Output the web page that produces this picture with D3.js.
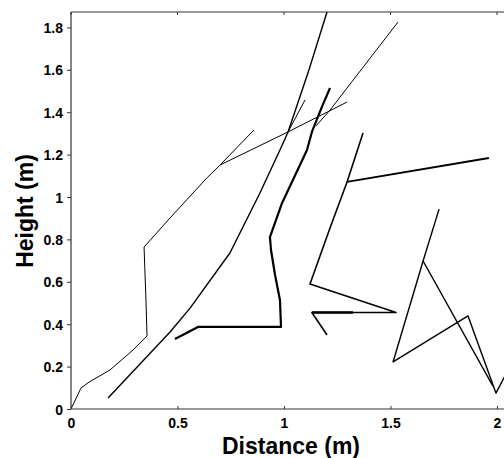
<!DOCTYPE html>
<html>
<head>
<meta charset="utf-8">
<script src="https://cdn.jsdelivr.net/npm/d3@7"></script>
<style>
  body { margin: 0; background: #fff; }
  svg { display: block; }
  .tick text { font-family: "Liberation Sans", Arial, sans-serif; font-weight: bold; font-size: 14px; fill: #000; }
  .title { font-family: "Liberation Sans", Arial, sans-serif; font-weight: bold; fill: #000; }
</style>
</head>
<body>
<svg id="chart" width="504" height="458"></svg>
<script>
// tick values and labels
var xTicks = [0, 0.5, 1, 1.5, 2];
var xTickLabels = ["0", "0.5", "1", "1.5", "2"];
var yTicks = [0, 0.2, 0.4, 0.6, 0.8, 1, 1.2, 1.4, 1.6, 1.8];
var yTickLabels = ["0", "0.2", "0.4", "0.6", "0.8", "1", "1.2", "1.4", "1.6", "1.8"];

// trajectories, distance (m) / height (m)
var trackAX = [0, 0.047, 0.085, 0.183, 0.291, 0.357, 0.352, 0.343, 0.465, 0.638, 0.70, 0.859];
var trackAY = [0, 0.099, 0.127, 0.184, 0.278, 0.344, 0.514, 0.764, 0.901, 1.090, 1.151, 1.316];
var trackBX = [0.70, 1.019, 1.296];
var trackBY = [1.151, 1.307, 1.448];
var trackCX = [0.174, 0.465, 0.559, 0.746, 0.887, 0.981, 1.019, 1.117, 1.202];
var trackCY = [0.052, 0.363, 0.476, 0.736, 1.019, 1.222, 1.307, 1.599, 1.873];
var trackDX = [1.019, 1.099];
var trackDY = [1.307, 1.458];
var trackEX = [0.488, 0.596, 0.986, 0.981, 0.958, 0.939, 0.934, 0.991, 1.108, 1.131, 1.178, 1.216];
var trackEY = [0.330, 0.387, 0.387, 0.514, 0.632, 0.750, 0.811, 0.972, 1.222, 1.307, 1.425, 1.514];
var trackFX = [1.535, 1.216, 1.150];
var trackFY = [1.825, 1.410, 1.335];
var trackGX = [1.371, 1.296, 1.216, 1.122, 1.526, 1.131, 1.202];
var trackGY = [1.302, 1.071, 0.854, 0.590, 0.455, 0.455, 0.349];
var trackHX = [1.131, 1.324];
var trackHY = [0.455, 0.455];
var trackIX = [1.296, 1.962];
var trackIY = [1.071, 1.184];
var trackJX = [1.728, 1.653, 1.512, 1.864, 1.995, 2.042];
var trackJY = [0.943, 0.698, 0.222, 0.439, 0.075, 0.165];
var trackKX = [1.653, 1.981];
var trackKY = [0.698, 0.108];

var tracks = [
    [trackAX, trackAY], [trackBX, trackBY], [trackCX, trackCY], [trackDX, trackDY],
    [trackEX, trackEY], [trackFX, trackFY], [trackGX, trackGY], [trackHX, trackHY],
    [trackIX, trackIY], [trackJX, trackJY], [trackKX, trackKY]
];
// stroke width for each track, same order
var trackWidths = [1, 1, 1.4, 1, 2.2, 1, 1.6, 2.4, 1.8, 1.4, 1.4];

var plotLeft = 71, plotBottom = 409, plotTop = 12, plotRight = 512;

var x = d3.scaleLinear().domain([0, 2]).range([plotLeft, 497]);
var y = d3.scaleLinear().domain([0, 1.8]).range([plotBottom, 27.4]);

var svg = d3.select("#chart");

svg.append("clipPath").attr("id", "plotclip")
    .append("rect")
    .attr("x", plotLeft).attr("y", plotTop)
    .attr("width", plotRight - plotLeft).attr("height", plotBottom - plotTop);

var line = d3.line()
    .x(function (d) { return x(d[0]); })
    .y(function (d) { return y(d[1]); });

svg.append("g")
    .attr("clip-path", "url(#plotclip)")
    .selectAll("path")
    .data(tracks)
    .enter()
    .append("path")
    .attr("d", function (t) {
        return line(t[0].map(function (v, i) { return [v, t[1][i]]; }));
    })
    .attr("fill", "none")
    .attr("stroke", "#000")
    .attr("stroke-linejoin", "round")
    .attr("stroke-width", function (t, i) { return trackWidths[i]; });

// frame
var frame = svg.append("g").attr("stroke", "#333").attr("stroke-width", 1.2);
frame.append("line").attr("x1", plotLeft).attr("x2", plotLeft).attr("y1", plotTop).attr("y2", plotBottom);
frame.append("line").attr("x1", plotLeft).attr("x2", plotRight).attr("y1", plotBottom).attr("y2", plotBottom);
frame.append("line").attr("x1", plotLeft).attr("x2", plotRight).attr("y1", plotTop).attr("y2", plotTop);

// y axis
var yAxis = svg.append("g")
    .attr("transform", "translate(" + plotLeft + ",0)")
    .call(d3.axisLeft(y).tickValues(yTicks)
        .tickFormat(function (d, i) { return yTickLabels[i]; })
        .tickSize(4).tickPadding(4));
yAxis.select(".domain").remove();
yAxis.selectAll(".tick line").attr("stroke", "#333");
yAxis.selectAll(".tick text").attr("dy", "0.36em");

// x axis, ticks point inward
var xAxis = svg.append("g")
    .attr("transform", "translate(0," + plotBottom + ")")
    .call(d3.axisBottom(x).tickValues(xTicks)
        .tickFormat(function (d, i) { return xTickLabels[i]; })
        .tickSize(-3).tickPadding(9));
xAxis.select(".domain").remove();
xAxis.selectAll(".tick line").attr("stroke", "#333");

// top ticks
svg.append("g")
    .selectAll("line")
    .data(xTicks)
    .enter()
    .append("line")
    .attr("x1", function (d) { return x(d); })
    .attr("x2", function (d) { return x(d); })
    .attr("y1", plotTop).attr("y2", plotTop + 3)
    .attr("stroke", "#333");

// axis titles
svg.append("text")
    .attr("class", "title")
    .attr("x", 291).attr("y", 454)
    .attr("text-anchor", "middle")
    .attr("font-size", 24)
    .attr("textLength", 138)
    .attr("lengthAdjust", "spacingAndGlyphs")
    .text("Distance (m)");

svg.append("text")
    .attr("class", "title")
    .attr("transform", "translate(33,211) rotate(-90)")
    .attr("text-anchor", "middle")
    .attr("font-size", 23)
    .text("Height (m)");
</script>
</body>
</html>
